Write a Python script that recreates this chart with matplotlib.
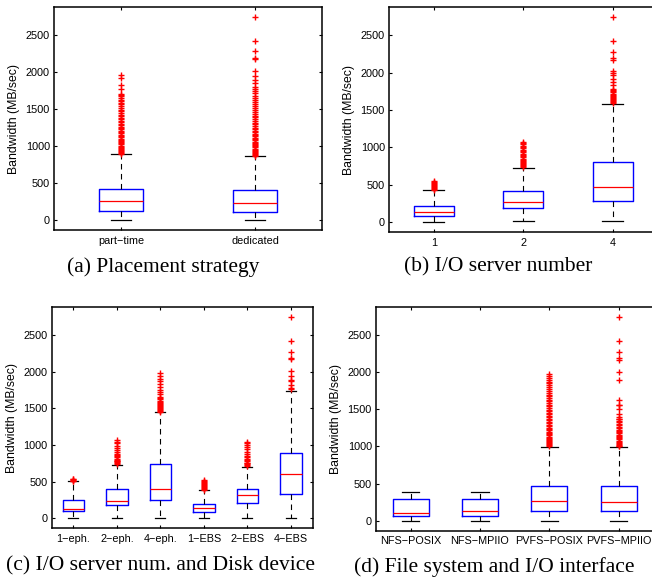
import matplotlib
matplotlib.use("Agg")
import matplotlib.pyplot as plt

# ---------------- data ----------------
# (a) Placement strategy
a_labels = ["part\u2212time", "dedicated"]
a_whislo = [0, 0]
a_q1 = [126, 104]
a_med = [257, 225]
a_q3 = [423, 405]
a_whishi = [887, 865]
a_out_parttime = [892, 905, 918, 930, 945, 960, 975, 990, 1005, 1020, 1035, 1050, 1068, 1085,
                  1100, 1118, 1135, 1150, 1170, 1190, 1205, 1225, 1245, 1262, 1280, 1300, 1320,
                  1340, 1360, 1380, 1400, 1420, 1445, 1465, 1490, 1510, 1535, 1560, 1585, 1605,
                  1625, 1650, 1670, 1690, 1700, 1770, 1824, 1919, 1959]
a_out_dedicated = [870, 882, 895, 908, 920, 935, 950, 965, 980, 995, 1010, 1025, 1040, 1058, 1075,
                   1092, 1110, 1128, 1145, 1165, 1185, 1205, 1225, 1248, 1270, 1292, 1315, 1340,
                   1362, 1385, 1410, 1435, 1460, 1485, 1510, 1535, 1560, 1590, 1620, 1650, 1680,
                   1710, 1740, 1765, 1793, 1847, 1892, 1946, 2006, 2171, 2193, 2275, 2410, 2739]

# (b) I/O server number
b_labels = ["1", "2", "4"]
b_whislo = [0, 13, 13]
b_q1 = [89, 196, 285]
b_med = [142, 267, 467]
b_q3 = [222, 414, 805]
b_whishi = [427, 730, 1588]
b_out_1 = [432, 445, 458, 470, 485, 498, 512, 525, 538, 550]
b_out_2 = [735, 748, 760, 775, 790, 805, 820, 835, 850, 868, 885, 900, 918, 935, 952, 970, 988,
           1005, 1022, 1040, 1055, 1070]
b_out_4 = [1592, 1605, 1618, 1632, 1645, 1660, 1675, 1690, 1705, 1720, 1738, 1755, 1772, 1788,
           1832, 1877, 1921, 1966, 2000, 2019, 2175, 2197, 2277, 2420, 2745]

# (c) I/O server num. and Disk device
c_labels = ["1\u2212eph.", "2\u2212eph.", "4\u2212eph.", "1\u2212EBS", "2\u2212EBS", "4\u2212EBS"]
c_whislo = [0, 0, 0, 0, 0, 0]
c_q1 = [100, 181, 254, 82, 204, 331]
c_med = [127, 231, 404, 141, 318, 603]
c_q3 = [250, 399, 735, 195, 399, 889]
c_whishi = [504, 730, 1443, 386, 703, 1730]
c_out_1eph = [508, 516, 524, 532, 540]
c_out_2eph = [738, 750, 762, 775, 788, 800, 815, 830, 845, 860, 878, 900, 930, 960, 990, 1020,
              1045, 1065]
c_out_4eph = [1450, 1462, 1475, 1488, 1500, 1515, 1530, 1545, 1560, 1575, 1590, 1605, 1620, 1640,
              1660, 1690, 1720, 1750, 1790, 1830, 1870, 1900, 1940, 1980]
c_out_1ebs = [392, 405, 418, 430, 442, 455, 468, 480, 495, 510, 525]
c_out_2ebs = [710, 722, 735, 748, 760, 775, 790, 810, 830, 855, 880, 910, 940, 970, 1000, 1020,
              1040]
c_out_4ebs = [1760, 1775, 1820, 1870, 1888, 1942, 2006, 2170, 2190, 2273, 2419, 2741]

# (d) File system and I/O interface
d_labels = ["NFS\u2212POSIX", "NFS\u2212MPIIO", "PVFS\u2212POSIX", "PVFS\u2212MPIIO"]
d_whislo = [0, 0, 0, 0]
d_q1 = [63, 63, 131, 131]
d_med = [104, 135, 271, 248]
d_q3 = [289, 289, 474, 474]
d_whishi = [393, 393, 993, 993]
d_out_nfsposix = []
d_out_nfsmpiio = []
d_out_pvfsposix = [1002, 1015, 1028, 1040, 1055, 1070, 1085, 1100, 1115, 1130, 1148, 1165, 1182,
                   1200, 1218, 1236, 1255, 1274, 1293, 1312, 1332, 1352, 1372, 1392, 1412, 1432,
                   1452, 1472, 1495, 1518, 1540, 1562, 1585, 1608, 1630, 1652, 1675, 1700, 1725,
                   1750, 1775, 1800, 1825, 1850, 1875, 1900, 1925, 1950, 1980]
d_out_pvfsmpiio = [1000, 1012, 1025, 1038, 1050, 1065, 1080, 1095, 1110, 1125, 1140, 1158, 1175,
                   1192, 1210, 1228, 1246, 1265, 1285, 1305, 1325, 1345, 1365, 1374, 1400, 1442,
                   1509, 1554, 1560, 1631, 1892, 2004, 2171, 2190, 2274, 2419, 2739]

yticks = [0, 500, 1000, 1500, 2000, 2500]
ylabel = "Bandwidth (MB/sec)"
captions = ["(a) Placement strategy", "(b) I/O server number",
            "(c) I/O server num. and Disk device", "(d) File system and I/O interface"]

# ---------------- drawing ----------------
W, H = 652, 581
fig = plt.figure(figsize=(W / 100, H / 100), dpi=100)
plt.rcParams['font.family'] = ['Liberation Sans', 'DejaVu Sans']


def px_axes(left, top, right, bottom):
    return fig.add_axes([left / W, 1 - bottom / H, (right - left) / W, (bottom - top) / H])


def draw(ax, labels, lo, q1, med, q3, hi, outs, width, capw, right_ticks=True):
    stats = []
    for i in range(len(labels)):
        stats.append(dict(whislo=lo[i], q1=q1[i], med=med[i], q3=q3[i], whishi=hi[i],
                          fliers=outs[i], label=labels[i]))
    n = len(labels)
    ax.bxp(stats, positions=list(range(1, n + 1)), widths=width, capwidths=capw,
           showfliers=True,
           boxprops=dict(color='#0000ff', linewidth=1.0),
           medianprops=dict(color='#ff0000', linewidth=0.9),
           whiskerprops=dict(color='black', linewidth=0.8, linestyle=(0, (5, 4))),
           capprops=dict(color='black', linewidth=0.9),
           flierprops=dict(marker='+', markeredgecolor='#ff0000', markersize=4.5,
                           markeredgewidth=1.0, linestyle='none'))
    ax.set_xlim(0.5, n + 0.5)
    ax.set_ylim(-135, 2875)
    ax.set_yticks(yticks)
    ax.set_yticklabels([str(v) for v in yticks])
    ax.set_xticks(list(range(1, n + 1)))
    ax.set_xticklabels(labels)
    ax.tick_params(direction='in', top=True, right=right_ticks, length=2.5, width=0.8,
                   labelsize=7.8, pad=3, colors='black')
    ax.tick_params(axis='x', pad=4)
    for s in ax.spines.values():
        s.set_linewidth(1.1)
    ax.set_ylabel(ylabel, fontsize=8.8, labelpad=4)


ax_a = px_axes(54, 7, 322, 230)
draw(ax_a, a_labels, a_whislo, a_q1, a_med, a_q3, a_whishi,
     [a_out_parttime, a_out_dedicated], 0.33, 0.15)

ax_b = px_axes(389, 7.3, 657.5, 232.3)
draw(ax_b, b_labels, b_whislo, b_q1, b_med, b_q3, b_whishi,
     [b_out_1, b_out_2, b_out_4], 0.45, 0.23)

ax_c = px_axes(51.7, 307.3, 312.7, 528.3)
draw(ax_c, c_labels, c_whislo, c_q1, c_med, c_q3, c_whishi,
     [c_out_1eph, c_out_2eph, c_out_4eph, c_out_1ebs, c_out_2ebs, c_out_4ebs], 0.5, 0.23)

ax_d = px_axes(376, 307.3, 653.2, 530.7)
draw(ax_d, d_labels, d_whislo, d_q1, d_med, d_q3, d_whishi,
     [d_out_nfsposix, d_out_nfsmpiio, d_out_pvfsposix, d_out_pvfsmpiio], 0.52, 0.25,
     right_ticks=False)

cap_pos = [(163, 267), (498, 267), (160, 566), (494, 567)]
for (x, y), t in zip(cap_pos, captions):
    fig.text(x / W, 1 - y / H, t, ha='center', va='center', fontsize=15.5,
             family=['Liberation Serif', 'DejaVu Serif'])

fig.savefig("out.png", dpi=100)
